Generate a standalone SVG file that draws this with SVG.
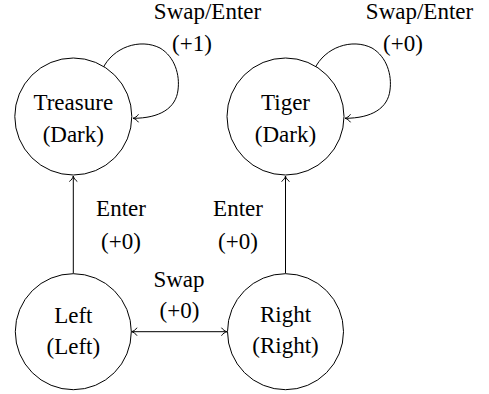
<svg xmlns="http://www.w3.org/2000/svg" width="489" height="394" viewBox="0 0 489 394">
<defs>
<style>
.node circle{fill:#fff;stroke:#000;stroke-width:1}
.edge{fill:none;stroke:#000;stroke-width:1}
</style>
<marker id="arr" viewBox="-7 -5 8 10" markerWidth="8" markerHeight="10" refX="0" refY="0" orient="auto-start-reverse" markerUnits="userSpaceOnUse">
<path d="M-5.5,-4 C-4.2,-1.9 -1.8,-0.4 0,0 C-1.8,0.4 -4.2,1.9 -5.5,4" fill="none" stroke="#000" stroke-width="1"/>
</marker>
</defs>
<rect width="489" height="394" fill="#fff"/>
<g font-family="'Liberation Serif', 'Times New Roman', Times, serif" font-size="23" text-anchor="middle" fill="#000">
<g id="connectors">
<path class="edge" d="M73.3,273.5 V176" marker-end="url(#arr)"/>
<path class="edge" d="M285.5,273.5 V176" marker-end="url(#arr)"/>
<path class="edge" d="M131.5,331.7 H227" marker-start="url(#arr)" marker-end="url(#arr)"/>
<path class="edge" d="M102.5,69 C113,47 140,38 160,48 C175,57 180,75 178,90 C176,108 160,118.3 133,118.3" marker-end="url(#arr)"/>
<path class="edge" d="M314.5,69 C325,47 352,38 372,48 C387,57 392,75 390,90 C388,108 372,118.3 345,118.3" marker-end="url(#arr)"/>
<text x="207.5" y="18.5">Swap/Enter</text>
<text x="192" y="51">(+1)</text>
<text x="419.5" y="18.5">Swap/Enter</text>
<text x="403" y="51">(+0)</text>
<text x="121" y="216">Enter</text>
<text x="121" y="249">(+0)</text>
<text x="238" y="216">Enter</text>
<text x="238" y="249">(+0)</text>
<text x="179" y="286.5">Swap</text>
<text x="179.5" y="318.3">(+0)</text>
</g>
<g id="treasure" class="node">
<circle cx="73.3" cy="116.5" r="58.5"/>
<text x="73.3" y="110">Treasure</text>
<text x="73.3" y="142">(Dark)</text>
</g>
<g id="tiger" class="node">
<circle cx="285.5" cy="116.5" r="58.5"/>
<text x="285.5" y="110">Tiger</text>
<text x="285.5" y="142">(Dark)</text>
</g>
<g id="left" class="node">
<circle cx="73.3" cy="331.7" r="58"/>
<text x="73.3" y="322.5">Left</text>
<text x="73.3" y="354.3">(Left)</text>
</g>
<g id="right" class="node">
<circle cx="285.5" cy="331.7" r="58"/>
<text x="285.5" y="322">Right</text>
<text x="285.5" y="352.7">(Right)</text>
</g>
</g>
</svg>
